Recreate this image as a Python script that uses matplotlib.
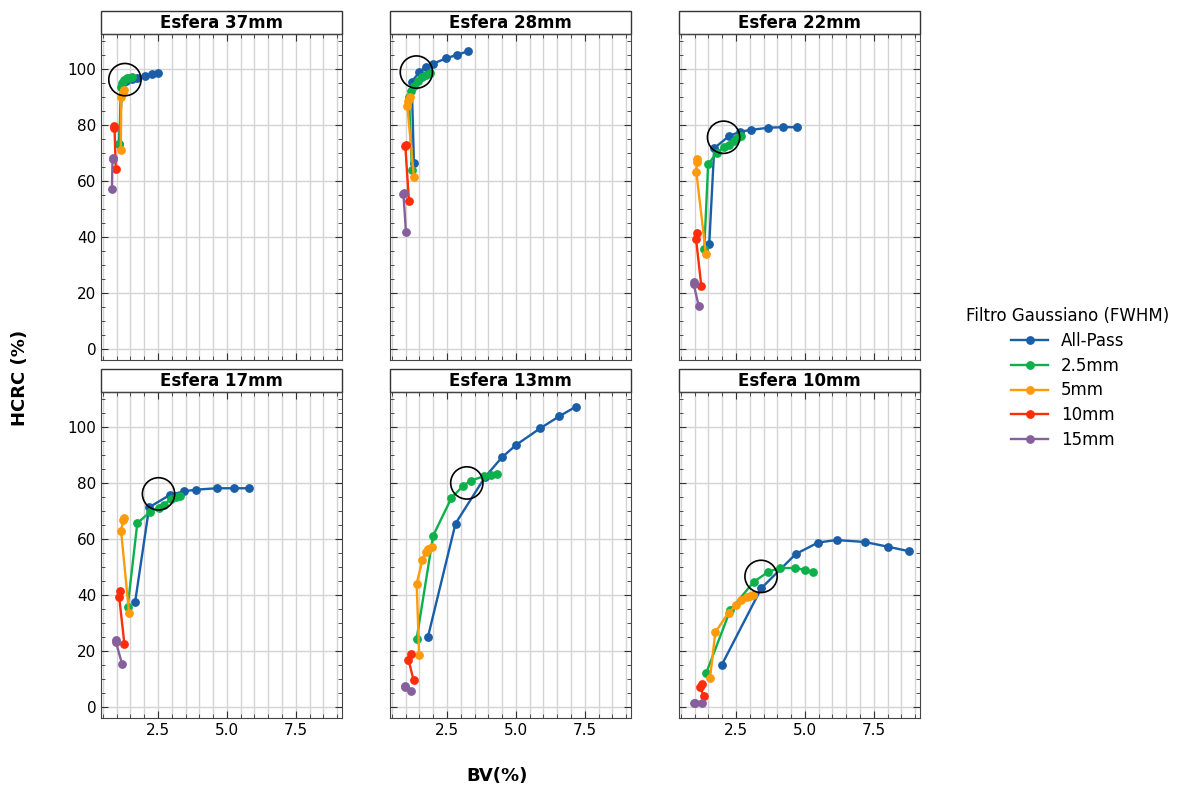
import matplotlib

matplotlib.use("Agg")
import matplotlib.pyplot as plt
from matplotlib.patches import Rectangle
from matplotlib.ticker import MultipleLocator

SPHERES = ["Esfera 37mm", "Esfera 28mm", "Esfera 22mm",
           "Esfera 17mm", "Esfera 13mm", "Esfera 10mm"]
FILTERS = ["All-Pass", "2.5mm", "5mm", "10mm", "15mm"]
COLORS = ["#1a5ea8", "#0cb14b", "#ff9a0a", "#ff2d0a", "#85609c"]

# BV (%) and HCRC (%) per sphere, one list per filter (same order as FILTERS)
bv_37 = [[1.08, 1.20, 1.35, 1.55, 1.75, 2.03, 2.27, 2.51],
         [1.10, 1.15, 1.20, 1.28, 1.37, 1.46, 1.55],
         [1.15, 1.17, 1.22, 1.25],
         [0.97, 0.92, 0.90],
         [0.83, 0.85, 0.86]]
hcrc_37 = [[73.0, 93.0, 95.5, 96.3, 96.8, 97.5, 98.0, 98.4],
           [73.0, 93.5, 95.0, 96.0, 96.5, 96.8, 97.0],
           [71.0, 90.0, 91.5, 92.3],
           [64.3, 79.5, 78.8],
           [57.0, 67.8, 68.0]]

bv_28 = [[1.30, 1.22, 1.50, 1.75, 2.00, 2.47, 2.87, 3.26],
         [1.23, 1.12, 1.20, 1.30, 1.45, 1.60, 1.75, 1.88],
         [1.30, 1.06, 1.10, 1.15],
         [1.12, 0.99, 1.02],
         [1.01, 0.92, 0.93]]
hcrc_28 = [[66.2, 95.3, 98.8, 100.7, 101.8, 103.7, 105.0, 106.2],
           [63.8, 90.0, 92.0, 93.8, 95.5, 96.9, 97.8, 98.4],
           [61.4, 86.8, 88.5, 89.8],
           [52.8, 72.2, 72.8],
           [41.8, 55.4, 55.6]]

bv_22 = [[1.53, 1.71, 2.26, 2.66, 3.03, 3.66, 4.20, 4.71],
         [1.35, 1.49, 1.81, 2.05, 2.23, 2.42, 2.54, 2.68],
         [1.41, 1.06, 1.09, 1.10],
         [1.24, 1.05, 1.08],
         [1.15, 0.96, 0.97]]
hcrc_22 = [[37.4, 71.6, 76.0, 77.5, 78.1, 78.9, 79.1, 79.1],
           [35.7, 65.9, 70.0, 71.9, 72.8, 74.3, 75.2, 76.1],
           [33.7, 63.2, 66.6, 67.6],
           [22.5, 39.3, 41.3],
           [15.1, 23.2, 23.8]]

bv_17 = [[1.67, 2.18, 2.93, 3.44, 3.88, 4.64, 5.27, 5.81],
         [1.40, 1.75, 2.21, 2.52, 2.73, 2.96, 3.15, 3.30],
         [1.45, 1.16, 1.24, 1.28],
         [1.28, 1.09, 1.12],
         [1.20, 0.97, 0.98]]
hcrc_17 = [[37.3, 71.2, 75.6, 76.9, 77.5, 78.0, 78.0, 78.0],
           [35.6, 65.5, 69.5, 71.0, 72.1, 74.3, 74.9, 75.4],
           [33.5, 62.9, 66.5, 67.4],
           [22.5, 39.3, 41.3],
           [15.1, 23.2, 23.6]]

bv_13 = [[1.81, 2.81, 3.88, 4.49, 5.01, 5.88, 6.57, 7.17],
         [1.40, 2.00, 2.66, 3.07, 3.36, 3.84, 4.08, 4.30],
         [1.49, 1.40, 1.61, 1.73, 1.82, 1.94],
         [1.29, 1.10, 1.18],
         [1.21, 0.97, 0.96]]
hcrc_13 = [[24.9, 65.4, 82.0, 89.0, 93.5, 99.4, 103.7, 107.1],
           [24.3, 61.1, 74.5, 78.7, 80.7, 82.3, 82.9, 83.1],
           [18.3, 43.9, 52.4, 55.1, 56.3, 57.0],
           [9.4, 16.8, 18.9],
           [5.4, 7.2, 7.0]]

bv_10 = [[1.98, 3.42, 4.67, 5.48, 6.15, 7.17, 8.02, 8.78],
         [1.42, 2.29, 3.14, 3.68, 4.08, 4.63, 5.02, 5.31],
         [1.56, 1.75, 2.23, 2.51, 2.69, 2.90, 3.02, 3.12],
         [1.35, 1.18, 1.27],
         [1.27, 0.98, 1.00]]
hcrc_10 = [[14.8, 42.3, 54.5, 58.6, 59.5, 58.8, 57.1, 55.5],
           [12.0, 34.4, 44.5, 48.2, 49.5, 49.5, 48.8, 48.0],
           [10.2, 26.5, 33.6, 36.2, 37.9, 39.0, 39.6, 40.0],
           [3.7, 6.9, 8.2],
           [1.4, 1.3, 1.2]]

BV = [bv_37, bv_28, bv_22, bv_17, bv_13, bv_10]
HCRC = [hcrc_37, hcrc_28, hcrc_22, hcrc_17, hcrc_13, hcrc_10]

# highlighted point per sphere (black ring)
circle_bv = [1.30, 1.39, 2.05, 2.52, 3.22, 3.41]
circle_hcrc = [96.1, 98.8, 75.5, 76.0, 79.9, 46.5]

W, H = 1179, 786
fig = plt.figure(figsize=(W / 100, H / 100), dpi=100)

lefts = [101, 390, 679]
tops = [34, 392]
ax_w, ax_h = 241, 326

axes = []
for i in range(6):
    r, c = divmod(i, 3)
    rect = [lefts[c] / W, 1 - (tops[r] + ax_h) / H, ax_w / W, ax_h / H]
    ax = fig.add_axes(rect, sharex=axes[0] if axes else None,
                      sharey=axes[0] if axes else None)
    axes.append(ax)

for i, ax in enumerate(axes):
    r, c = divmod(i, 3)
    for bx, hy, name, color in zip(BV[i], HCRC[i], FILTERS, COLORS):
        ax.plot(bx, hy, "-o", color=color, lw=1.7, ms=5.3, label=name, zorder=3)
    ax.scatter([circle_bv[i]], [circle_hcrc[i]], s=540, facecolors="none",
               edgecolors="black", linewidths=1.2, zorder=5)

    ax.xaxis.set_major_locator(MultipleLocator(2.5))
    ax.xaxis.set_minor_locator(MultipleLocator(0.5))
    ax.yaxis.set_major_locator(MultipleLocator(20))
    ax.yaxis.set_minor_locator(MultipleLocator(5))
    ax.grid(True, axis="x", which="both", color="#d4d4d4", lw=1.0)
    ax.grid(True, axis="y", which="major", color="#d4d4d4", lw=1.0)
    ax.set_axisbelow(True)
    ax.tick_params(which="both", direction="in", top=True, right=True,
                   labelsize=11, color="#333333")
    ax.tick_params(which="major", length=5)
    ax.tick_params(which="minor", length=3)
    for sp in ax.spines.values():
        sp.set_color("#444444")
    if r == 0:
        ax.tick_params(labelbottom=False)
    if c != 0:
        ax.tick_params(labelleft=False)

    # facet strip title
    ax.add_patch(Rectangle((0, 1.0), 1, 0.07, transform=ax.transAxes,
                           facecolor="white", edgecolor="#333333", lw=1.0,
                           clip_on=False))
    ax.text(0.5, 1.035, SPHERES[i], transform=ax.transAxes, ha="center",
            va="center", fontsize=12, fontweight="bold")

fig.text(20 / W, 1 - 378 / H, "HCRC (%)", rotation=90, ha="center",
         va="center", fontsize=13, fontweight="bold")
fig.text(497 / W, 1 - 776 / H, "BV(%)", ha="center", va="center",
         fontsize=13, fontweight="bold")

handles, labels = axes[0].get_legend_handles_labels()
fig.legend(handles, labels, title="Filtro Gaussiano (FWHM)", loc="center",
           bbox_to_anchor=(1068 / W, 1 - 378 / H), frameon=False,
           fontsize=12, title_fontsize=12, handlelength=2.2,
           labelspacing=0.4)

fig.savefig("out.png", dpi=100)
